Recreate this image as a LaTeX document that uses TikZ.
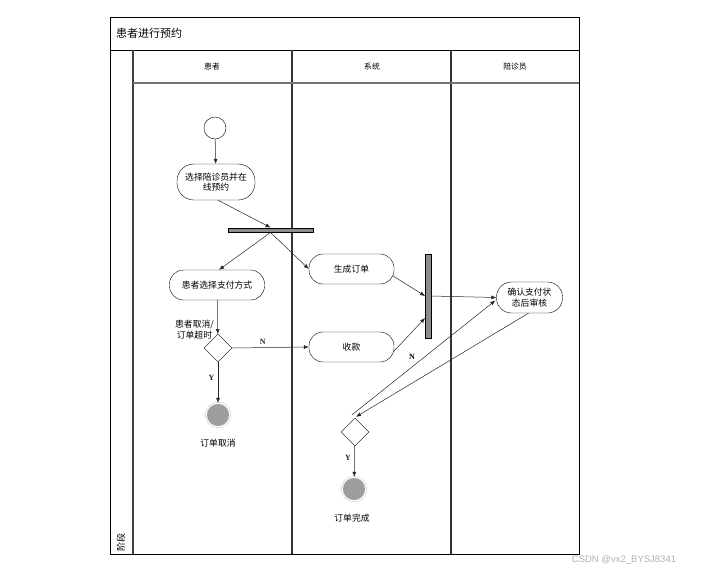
\documentclass[tikz,border=0pt]{standalone}
\usepackage{fontspec}
\setmainfont{Noto Sans CJK SC}
\newfontfamily\latinfont{Liberation Serif}
\newfontfamily\wmfont{Liberation Sans}
\usetikzlibrary{arrows.meta,shapes.geometric,calc}
\begin{document}
\begin{tikzpicture}[x=1pt,y=-1pt,
  act/.style={draw,rounded corners=14pt,minimum height=30pt,font=\fontsize{8.8}{10.5}\selectfont,align=center,inner sep=2pt},
  bar/.style={draw,fill=black!45,inner sep=0pt},
  dec/.style={draw,diamond,aspect=1,minimum width=28pt,minimum height=28pt,inner sep=0pt},
  endnode/.style={circle,fill=black!38,minimum size=24pt,inner sep=0pt,draw=black!25,double=white,double distance=1.2pt},
  arr/.style={-{Latex[length=5pt,width=4pt]},black!85,line width=0.5pt},
  lbl/.style={font=\fontsize{8.8}{10.5}\selectfont,align=center},
  yn/.style={font=\latinfont\fontsize{8}{9}\selectfont\bfseries}
]
\useasboundingbox (0,0) rectangle (706,574);
\fill[white] (0,0) rectangle (706,574);
% frame
\draw[line width=0.9pt] (110,17) rectangle (579,554);
\draw[line width=0.7pt] (110,50) -- (579,50);
\draw[line width=1.3pt,black!75] (133,50) -- (133,554);
\draw[line width=1.2pt,black!80] (292,50) -- (292,554);
\draw[line width=1.2pt,black!80] (451,50) -- (451,554);
\draw[line width=1.2pt,black!55] (133,83) -- (579,83);
\node[anchor=west,font=\fontsize{11}{13}\selectfont,inner sep=0pt] (title) at (116,33.5) {患者进行预约};
\node[font=\fontsize{7.8}{9}\selectfont] (h1) at (212,67) {患者};
\node[font=\fontsize{7.8}{9}\selectfont] (h2) at (372,67) {系统};
\node[font=\fontsize{7.8}{9}\selectfont] (h3) at (515,67) {陪诊员};
\node[rotate=90,anchor=west,font=\fontsize{9}{10}\selectfont,inner sep=1pt] (stage) at (121,553) {阶段};
% nodes
\node[draw,circle,minimum size=22pt,inner sep=0pt] (start) at (215,128) {};
\node[act,minimum width=78pt,minimum height=36pt,rounded corners=17pt,text width=72pt] (sel) at (216,182) {选择陪诊员并在\\线预约};
\node[bar,minimum width=85pt,minimum height=4.5pt] (fork) at (270.5,230) {};
\node[act,minimum width=95pt] (pay) at (217,285) {患者选择支付方式};
\node[act,minimum width=85pt] (gen) at (351.5,269) {生成订单};
\node[act,minimum width=85pt] (rec) at (351.5,347) {收款};
\node[bar,minimum width=5.5pt,minimum height=84pt] (join) at (428,296) {};
\node[act,minimum width=65pt,minimum height=31pt,rounded corners=15pt,text width=62pt] (conf) at (529.5,297.5) {确认支付状\\态后审核};
\node[dec] (d1) at (218,348) {};
\node[lbl,anchor=south east,inner sep=1pt] (d1lbl) at (215,340) {患者取消/\\订单超时};
\node[endnode] (e1) at (218,415) {};
\node[lbl] (e1lbl) at (218,443) {订单取消};
\node[dec] (d2) at (355,432) {};
\node[endnode] (e2) at (354,489) {};
\node[lbl] (e2lbl) at (352,518) {订单完成};
% connectors
\draw[arr] (start) -- (sel);
\draw[arr] ($(sel.south)+(2,0)$) -- (fork.north);
\draw[arr] (fork.south) -- ($(pay.north)+(2,0)$);
\draw[arr] (fork.south) -- (gen.west);
\draw[arr] ($(gen.east)+(-1,7)$) -- (join.west);
\draw[arr] ($(rec.east)+(-1,5)$) -- ($(join.west)+(0,22)$);
\draw[arr] (join.east) -- (conf.west);
\draw[arr] (pay) -- (d1);
\draw[arr] (d1.east) -- node[yn,above,pos=0.4] {N} (rec.west);
\draw[arr] (d1) -- node[yn,left,pos=0.38] {Y} (e1);
\draw[arr] ($(d2.north)+(-3,-3)$) -- ($(conf.west)+(-1,3)$);
\draw[arr] ($(conf.south)+(-1,0)$) -- ($(d2.north)+(1,-1)$);
\node[yn] (nlbl) at (412,357) {N};
\draw[arr] (d2) -- node[yn,left,pos=0.38] {Y} (e2);
\node[font=\wmfont\fontsize{9.5}{11}\selectfont,text=black!30] (wm) at (624,560) {CSDN @vx2\_BYSJ8341};
\end{tikzpicture}
\end{document}
